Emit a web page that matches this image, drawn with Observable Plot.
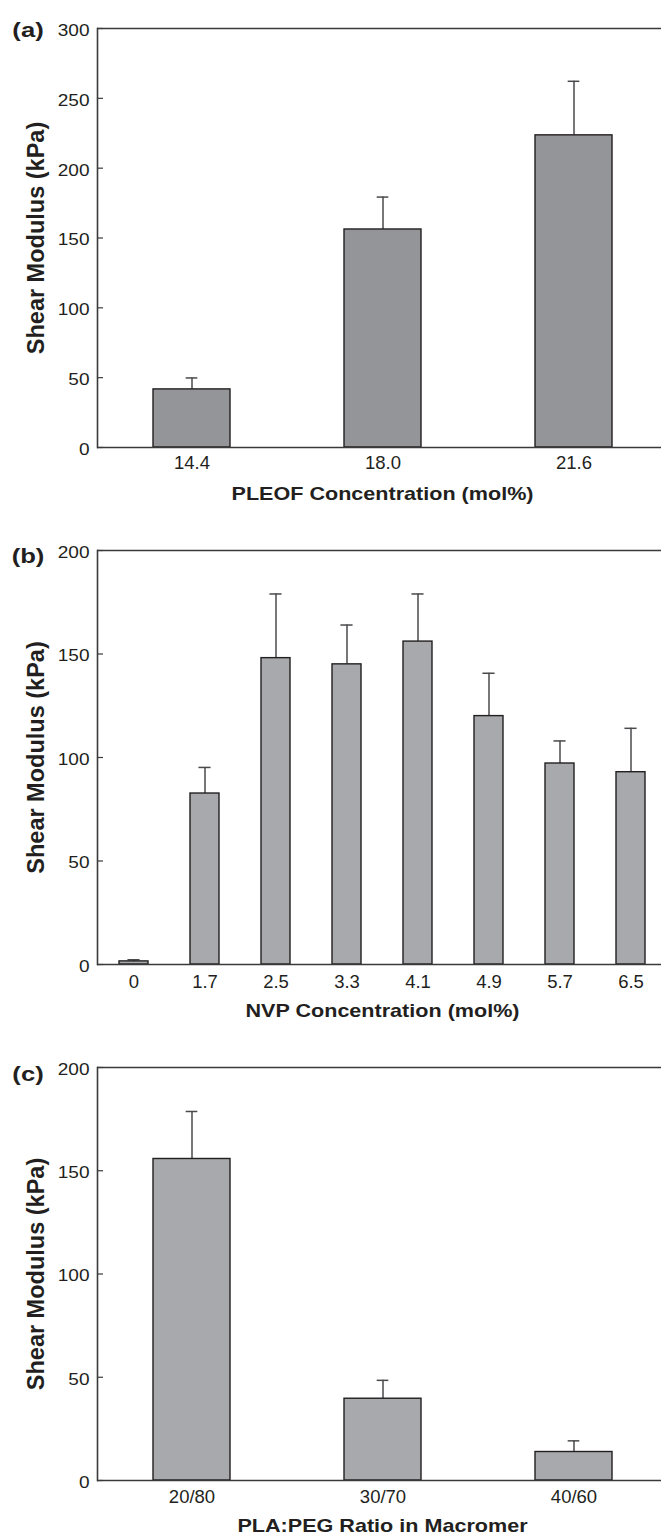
<!DOCTYPE html>
<html>
<head>
<meta charset="utf-8">
<script src="https://cdn.jsdelivr.net/npm/d3@7"></script>
<script src="https://cdn.jsdelivr.net/npm/@observablehq/plot@0.6"></script>
<style>
  html, body { margin: 0; padding: 0; background: #fff; }
  #chart svg { display: block; }
</style>
</head>
<body>
<div id="chart"></div>
<script>
// Panel (a): PLEOF concentration
const pleofCategories = ["14.4", "18.0", "21.6"];
const pleofModulus = [41.6, 156.1, 223.5];
const pleofSD = [8.2, 23.2, 38.7];
const pleofTicks = [0, 50, 100, 150, 200, 250, 300];

// Panel (b): NVP concentration
const nvpCategories = ["0", "1.7", "2.5", "3.3", "4.1", "4.9", "5.7", "6.5"];
const nvpModulus = [1.5, 82.6, 148, 145, 156, 120, 97.1, 92.9];
const nvpSD = [0.8, 12.6, 31, 19, 23, 20.7, 10.9, 21.2];
const nvpTicks = [0, 50, 100, 150, 200];

// Panel (c): PLA:PEG ratio
const ratioCategories = ["20/80", "30/70", "40/60"];
const ratioModulus = [155.7, 39.6, 13.8];
const ratioSD = [23, 8.9, 5.4];
const ratioTicks = [0, 50, 100, 150, 200];

const yLabel = "Shear Modulus (kPa)";

function panel({tag, cats, vals, sds, ticks, xLabel, fill, height, marginTop, marginBottom, xRange, tagDy, titleDy, xTickPad}) {
  const data = cats.map((c, i) => ({cat: c, value: vals[i], top: vals[i] + sds[i]}));
  const ymax = ticks[ticks.length - 1];
  const pInner = 0.595;
  const step = (xRange[1] - xRange[0]) / cats.length;
  const bw = step * (1 - pInner);
  const capInset = (bw - 12) / 2;
  const frameW = 661 - 97;
  const axisColor = "#3a3a3a";
  return Plot.plot({
    width: 661,
    height,
    marginLeft: 97,
    marginRight: 0,
    marginTop,
    marginBottom,
    style: {fontFamily: "'Liberation Sans', Arial, Helvetica, sans-serif", color: "#231f20", background: "#fff", overflow: "visible"},
    x: {type: "band", domain: cats, range: xRange, paddingInner: pInner, paddingOuter: pInner / 2, label: null},
    y: {domain: [0, ymax], label: null},
    marks: [
      Plot.ruleX(data, {x: "cat", y1: "value", y2: "top", stroke: "#4a4a4c", strokeWidth: 1.5}),
      Plot.tickY(data, {x: "cat", y: "top", stroke: "#4a4a4c", strokeWidth: 1.5, insetLeft: capInset, insetRight: capInset}),
      Plot.barY(data, {x: "cat", y: "value", fill, stroke: "#231f20", strokeWidth: 1.4}),
      Plot.tickY(ticks, {y: d => d, stroke: axisColor, strokeWidth: 1.2, insetRight: frameW - 6}),
      Plot.ruleY([0, ymax], {stroke: axisColor, strokeWidth: 1.6}),
      Plot.frame({anchor: "left", stroke: axisColor, strokeWidth: 1.6}),
      Plot.axisY(ticks, {tickSize: 0, tickPadding: 8, dy: 2, fontSize: 17, label: null}),
      Plot.axisX({tickSize: 0, tickPadding: xTickPad, fontSize: 18.5, label: null}),
      Plot.text([yLabel], {text: d => d, frameAnchor: "left", dx: -61, rotate: -90, textAnchor: "middle", lineAnchor: "middle", fontWeight: "bold", fontSize: 23.5, fill: "#231f20"}),
      Plot.text([xLabel], {text: d => d, frameAnchor: "bottom", dx: 3, dy: titleDy, textAnchor: "middle", lineAnchor: "middle", fontWeight: "bold", fontSize: 18.6, fill: "#231f20"}),
      Plot.text([tag], {text: d => d, frameAnchor: "top-left", dx: -69.5, dy: tagDy, textAnchor: "middle", lineAnchor: "middle", fontWeight: "bold", fontSize: 20.5, fill: "#231f20"})
    ]
  });
}

// the reference is stretched horizontally: widen horizontal texts to match
function stretchTexts(svg, tag, xLabel) {
  d3.select(svg).selectAll("text").each(function () {
    const t = this.textContent;
    const parentLabel = this.parentNode && this.parentNode.getAttribute("aria-label") || "";
    let k = 1;
    if (t === xLabel) k = 1.16;
    else if (t === tag) k = 1.25;
    else if (parentLabel.indexOf("y-axis") >= 0) k = 1.12;
    if (k !== 1) {
      const len = this.getComputedTextLength();
      this.setAttribute("textLength", (len * k).toFixed(2));
      this.setAttribute("lengthAdjust", "spacingAndGlyphs");
    }
  });
}

const root = document.getElementById("chart");
const panels = [
  {tag: "(a)", cats: pleofCategories, vals: pleofModulus, sds: pleofSD, ticks: pleofTicks,
   xLabel: "PLEOF Concentration (mol%)", fill: "#939598",
   height: 520, marginTop: 28, marginBottom: 73, xRange: [96, 669], tagDy: 2, titleDy: 46.5, xTickPad: 8.5},
  {tag: "(b)", cats: nvpCategories, vals: nvpModulus, sds: nvpSD, ticks: nvpTicks,
   xLabel: "NVP Concentration (mol%)", fill: "#a7a9ac",
   height: 516, marginTop: 30, marginBottom: 72, xRange: [97, 667], tagDy: 5.5, titleDy: 47, xTickPad: 10.5},
  {tag: "(c)", cats: ratioCategories, vals: ratioModulus, sds: ratioSD, ticks: ratioTicks,
   xLabel: "PLA:PEG Ratio in Macromer", fill: "#a7a9ac",
   height: 498, marginTop: 31, marginBottom: 54, xRange: [96, 669], tagDy: 7, titleDy: 46, xTickPad: 9}
];
for (const p of panels) {
  const svg = panel(p);
  root.append(svg);
  stretchTexts(svg, p.tag, p.xLabel);
}
</script>
</body>
</html>
